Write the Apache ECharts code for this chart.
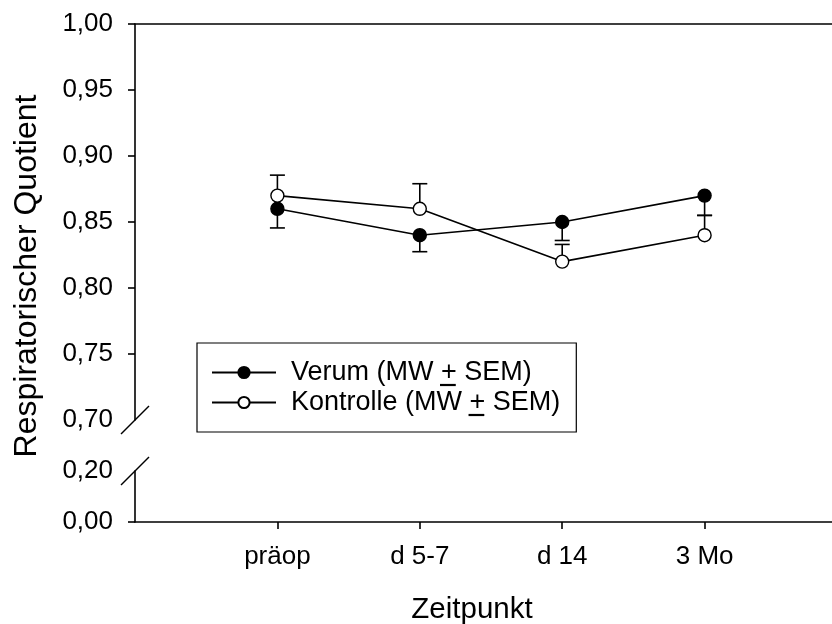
<!DOCTYPE html>
<html>
<head>
<meta charset="utf-8">
<script src="https://cdn.jsdelivr.net/npm/echarts@6/dist/echarts.min.js"></script>
<style>
  html, body { margin: 0; padding: 0; background: #fff; }
  #chart { width: 832px; height: 624px; }
</style>
</head>
<body>
<div id="chart"></div>
<script>
// Zeitpunkte
var categories = ['präop', 'd 5-7', 'd 14', '3 Mo'];
// Mittelwerte
var verum = [0.86, 0.84, 0.85, 0.87];
var kontrolle = [0.87, 0.86, 0.82, 0.84];
// SEM (Verum nach unten, Kontrolle nach oben)
var verumSem = [0.0145, 0.0125, 0.014, 0.015];
var kontrolleSem = [0.0155, 0.019, 0.013, 0.015];
// Achsenbeschriftung
var upperTicks = [0.70, 0.75, 0.80, 0.85, 0.90, 0.95, 1.00];
var lowerTicks = [0.00, 0.20];
var legendNames = ['Verum (MW + SEM)', 'Kontrolle (MW + SEM)'];

(function () {
    var font = "'Liberation Sans', Arial, sans-serif";
    var myChart = echarts.init(document.getElementById('chart'));

    function comma(v) {
        return v.toFixed(2).replace('.', ',');
    }

    function pts(arr) {
        return arr.map(function (v, i) { return [i + 1, v]; });
    }

    // Fehlerbalken: [x, wert, ende]
    function errData(vals, sem, dir) {
        return vals.map(function (v, i) { return [i + 1, v, v + dir * sem[i]]; });
    }

    function renderErr(params, api) {
        var p0 = api.coord([api.value(0), api.value(1)]);
        var p1 = api.coord([api.value(0), api.value(2)]);
        var style = { stroke: '#000', lineWidth: 1.6 };
        return {
            type: 'group',
            children: [
                { type: 'line', shape: { x1: p0[0], y1: p0[1], x2: p1[0], y2: p1[1] }, style: style },
                { type: 'line', shape: { x1: p1[0] - 7.5, y1: p1[1], x2: p1[0] + 7.5, y2: p1[1] }, style: style }
            ]
        };
    }

    var axisLine = { lineStyle: { color: '#000', width: 1.6 } };
    var labelStyle = { color: '#000', fontSize: 26, fontFamily: font };

    // Legende
    var lgLeft = 197, lgTop = 343, lgPadL = 14, lgIcon = 64, lgTextGap = 15, lgFont = 27, lgRow = 30;

    var option = {
        animation: false,
        backgroundColor: '#fff',
        grid: [
            { left: 135, width: 712, top: 24, height: 396, outerBoundsMode: 'none' },
            { left: 135, width: 712, top: 471, height: 51, outerBoundsMode: 'none' }
        ],
        xAxis: [
            {
                gridIndex: 0, type: 'value', min: 0, max: 5, interval: 1,
                axisLine: { show: false }, axisTick: { show: false },
                axisLabel: { show: false }, splitLine: { show: false }
            },
            {
                gridIndex: 0, type: 'value', position: 'top', min: 0, max: 5, interval: 1,
                axisLine: axisLine, axisTick: { show: false },
                axisLabel: { show: false }, splitLine: { show: false }
            },
            {
                gridIndex: 1, type: 'value', min: 0, max: 5, interval: 1,
                axisLine: axisLine,
                axisTick: { show: true, length: 7, inside: false, customValues: [1, 2, 3, 4], lineStyle: { width: 1.6 } },
                axisLabel: Object.assign({
                    margin: 22,
                    customValues: [1, 2, 3, 4],
                    formatter: function (v) { return categories[v - 1]; }
                }, labelStyle),
                splitLine: { show: false }
            }
        ],
        yAxis: [
            {
                gridIndex: 0, type: 'value', min: 0.7, max: 1.0, interval: 0.05,
                axisLine: axisLine,
                axisTick: { length: 7, customValues: upperTicks.slice(1), lineStyle: { width: 1.6 } },
                axisLabel: Object.assign({ margin: 22, customValues: upperTicks, formatter: comma }, labelStyle),
                splitLine: { show: false }
            },
            {
                gridIndex: 1, type: 'value', min: 0, max: 0.2, interval: 0.2,
                axisLine: axisLine,
                axisTick: { length: 7, customValues: [0], lineStyle: { width: 1.6 } },
                axisLabel: Object.assign({ margin: 22, customValues: lowerTicks, formatter: comma }, labelStyle),
                splitLine: { show: false }
            }
        ],
        legend: {
            left: lgLeft, top: lgTop,
            orient: 'vertical',
            data: legendNames,
            itemWidth: lgIcon, itemHeight: 14, itemGap: lgRow - lgFont,
            padding: [16, 16, 16, lgPadL],
            borderColor: '#000', borderWidth: 1.2,
            textStyle: {
                color: '#000', fontSize: lgFont, fontFamily: font, lineHeight: lgFont,
                padding: [0, 0, 0, lgTextGap - 5]
            }
        },
        series: [
            {
                type: 'custom', name: 'errV', xAxisIndex: 0, yAxisIndex: 0,
                renderItem: renderErr, data: errData(verum, verumSem, -1), z: 1
            },
            {
                type: 'custom', name: 'errK', xAxisIndex: 0, yAxisIndex: 0,
                renderItem: renderErr, data: errData(kontrolle, kontrolleSem, 1), z: 1
            },
            {
                name: legendNames[0], type: 'line', xAxisIndex: 0, yAxisIndex: 0,
                data: pts(verum), symbol: 'circle', symbolSize: 13,
                lineStyle: { color: '#000', width: 1.6 },
                itemStyle: { color: '#000', borderColor: '#000', borderWidth: 1.4 },
                z: 3
            },
            {
                name: legendNames[1], type: 'line', xAxisIndex: 0, yAxisIndex: 0,
                data: pts(kontrolle), symbol: 'circle', symbolSize: 13,
                lineStyle: { color: '#000', width: 1.6 },
                itemStyle: { color: '#fff', borderColor: '#000', borderWidth: 1.4 },
                z: 3
            }
        ]
    };

    myChart.setOption(option);

    // Unterstrich unter "+" (= ±) in der Legende
    var ctx = document.createElement('canvas').getContext('2d');
    ctx.font = lgFont + 'px ' + font;
    var textX = lgLeft + lgPadL + lgIcon + lgTextGap;
    var underlines = legendNames.map(function (name, i) {
        var idx = name.indexOf('+');
        var x0 = textX + ctx.measureText(name.slice(0, idx)).width;
        var w = ctx.measureText('+').width;
        var y = lgTop + 16 + i * lgRow + lgFont - 1;
        return {
            type: 'line', z: 100,
            shape: { x1: x0, y1: y, x2: x0 + w, y2: y },
            style: { stroke: '#000', lineWidth: 2.2 }
        };
    });

    // Achsenbruch und Achsentitel
    var ax = myChart.convertToPixel({ xAxisIndex: 0 }, 0);
    var yTop = myChart.convertToPixel({ yAxisIndex: 0 }, 0.7);
    var yBot = myChart.convertToPixel({ yAxisIndex: 1 }, 0.2);
    var slash = { stroke: '#000', lineWidth: 1.4 };
    myChart.setOption({
        graphic: underlines.concat([
            { type: 'line', shape: { x1: ax - 14, y1: yTop + 14, x2: ax + 14, y2: yTop - 14 }, style: slash },
            { type: 'line', shape: { x1: ax - 14, y1: yBot + 14, x2: ax + 14, y2: yBot - 14 }, style: slash },
            {
                type: 'text', x: 472, y: 610,
                style: { text: 'Zeitpunkt', fill: '#000', fontSize: 29.5, fontFamily: font, align: 'center', verticalAlign: 'middle' }
            },
            {
                type: 'text', x: 27, y: 276, rotation: Math.PI / 2,
                style: { text: 'Respiratorischer Quotient', fill: '#000', fontSize: 32, fontFamily: font, align: 'center', verticalAlign: 'middle' }
            }
        ])
    });

    window.addEventListener('resize', function () {
        myChart.resize();
    });
})();
</script>
</body>
</html>
